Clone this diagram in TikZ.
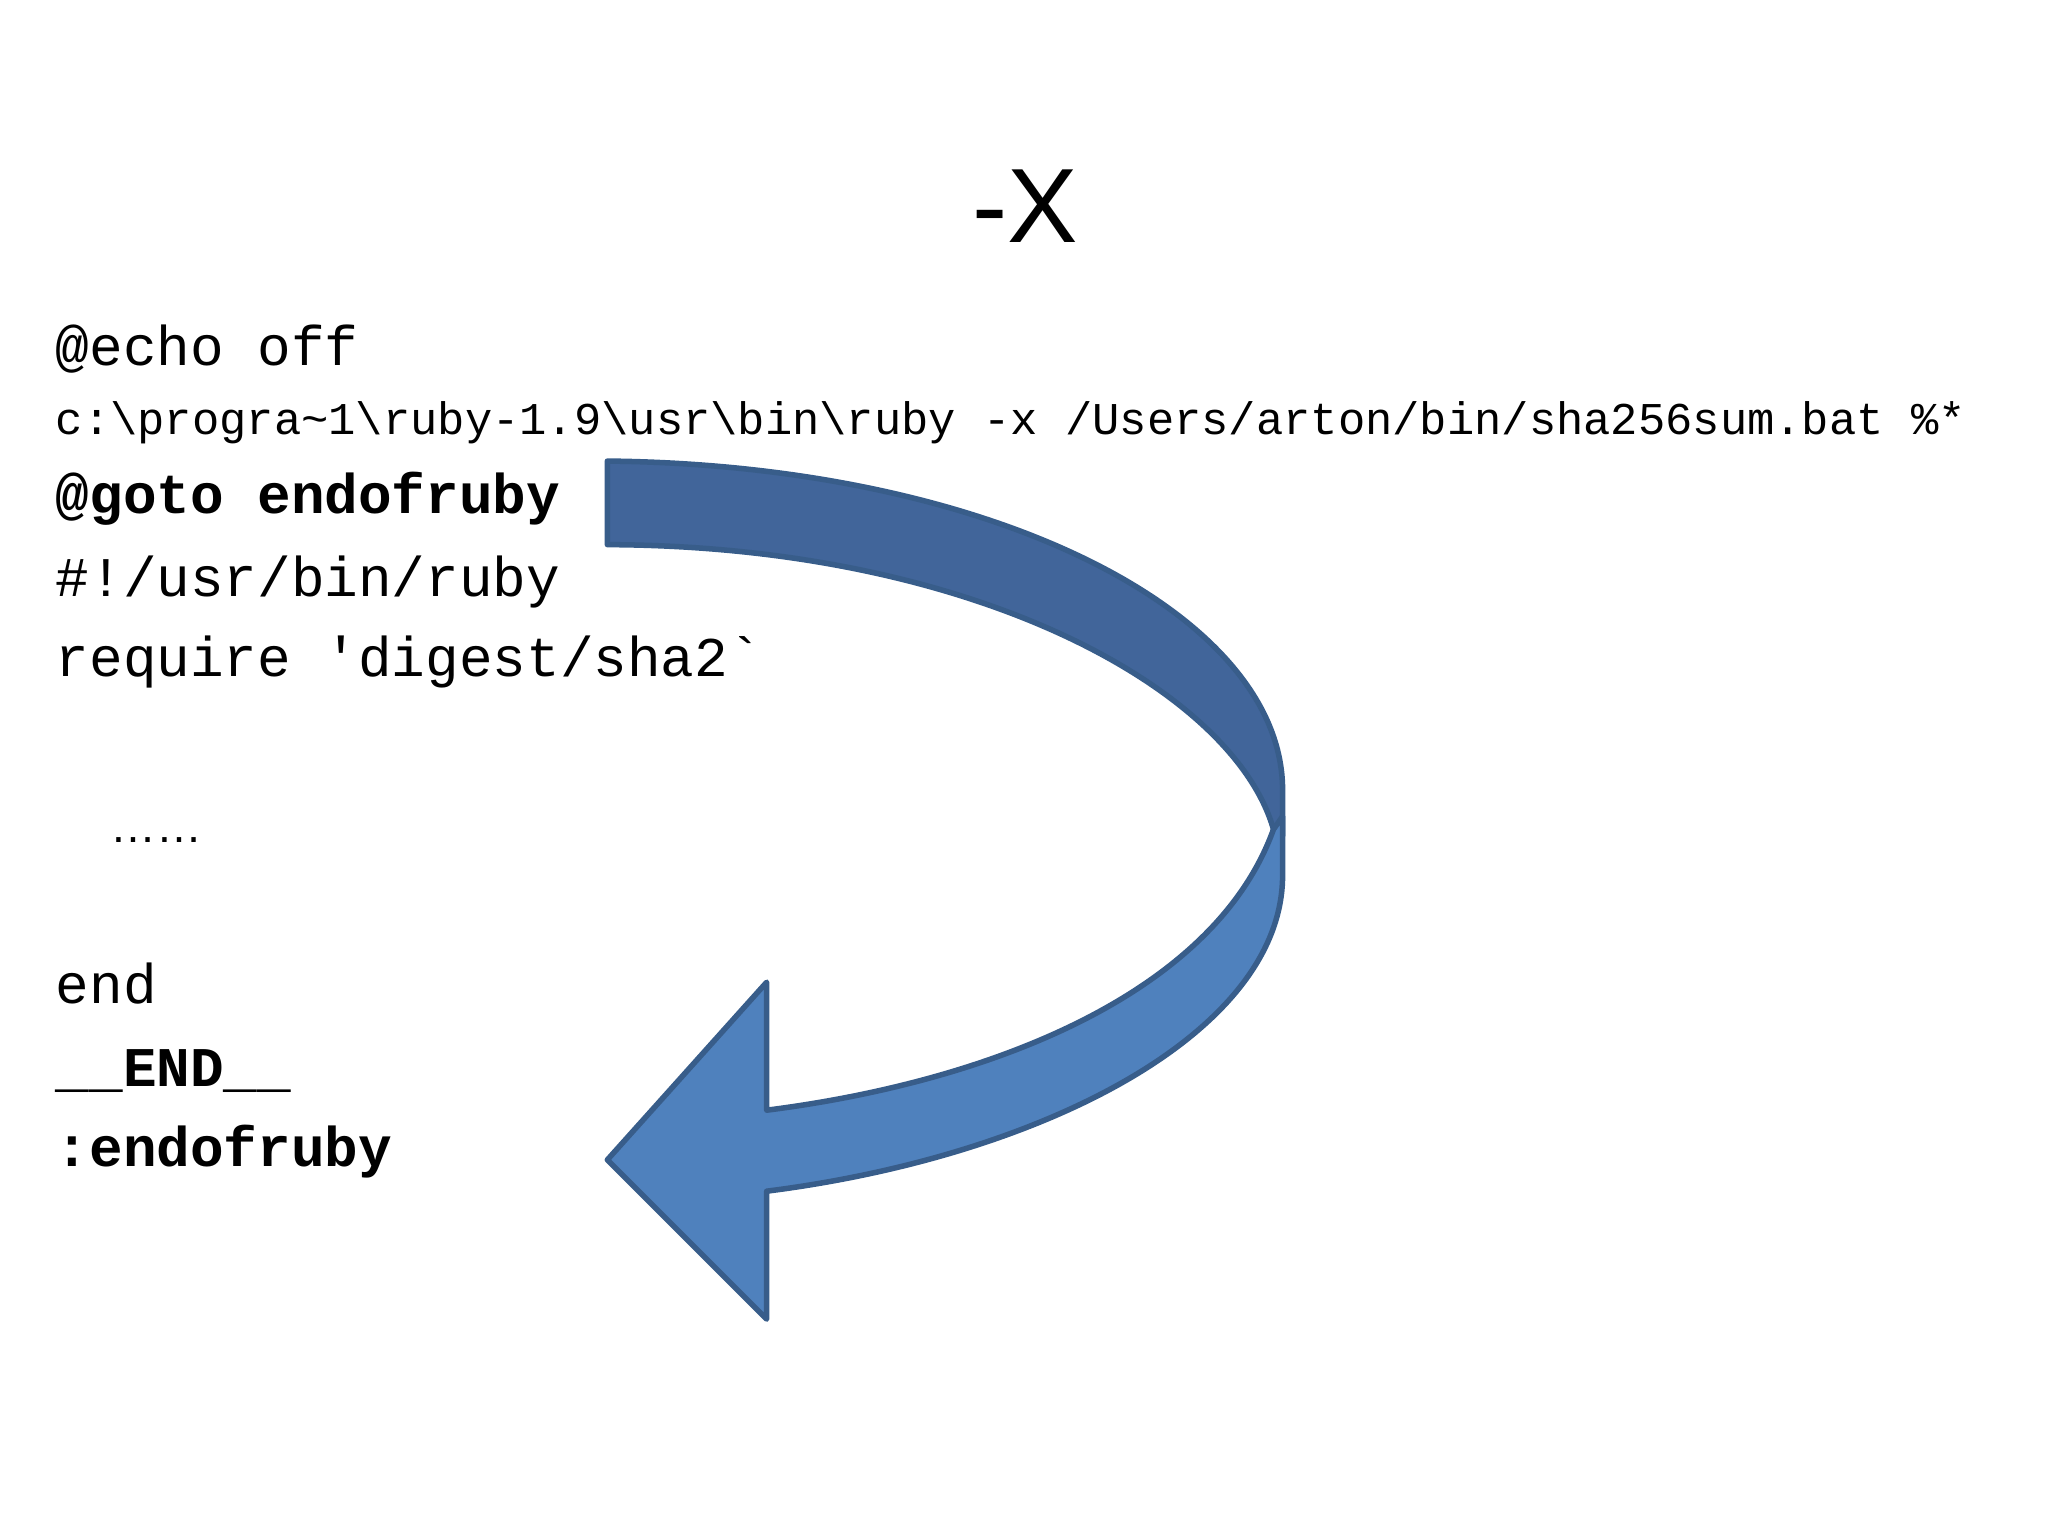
\documentclass[tikz,border=0pt]{standalone}
\usepackage{fontspec}
\newfontfamily\mono{Liberation Mono}
\newfontfamily\sans{Liberation Sans}
\definecolor{darkb}{HTML}{41659A}
\definecolor{lightb}{HTML}{4F81BD}
\definecolor{edgeb}{HTML}{385D8A}
\begin{document}
\begin{tikzpicture}[x=0.01cm,y=-0.01cm,
  code/.style={anchor=base west,inner sep=0pt,font=\mono\fontsize{12.2pt}{14pt}\selectfont},
  codebf/.style={code,font=\mono\bfseries\fontsize{12.2pt}{14pt}\selectfont}]
\useasboundingbox (0,0) rectangle (1568,1176);
\node[inner sep=0pt,font=\sans\fontsize{23pt}{26pt}\selectfont] (title) at (785,158) {-X};
\node[code] (l1) at (42,280) {@echo off};
\node[code,font=\mono\fontsize{9.9pt}{12pt}\selectfont] (l2) at (42,333) {c:\textbackslash progra\textasciitilde 1\textbackslash ruby-1.9\textbackslash usr\textbackslash bin\textbackslash ruby -x /Users/arton/bin/sha256sum.bat \%*};
\node[codebf] (l3) at (42,393) {@goto endofruby};
\node[code] (l4) at (42,457) {\#!/usr/bin/ruby};
\node[code] (l5) at (42,518) {require 'digest/sha2`};
\node[anchor=base west,inner sep=0pt,font=\sans\fontsize{10pt}{12pt}\selectfont] (dots) at (84,645) {……};
\node[code] (l6) at (42,768) {end};
\node[codebf] (l7) at (42,832) {\_\_END\_\_};
\node[codebf] (l8) at (42,893) {:endofruby};
% arrow back (dark)
\draw[edgeb,line width=1.2pt,fill=darkb,line join=round]
  (465,353) .. controls (760,356) and (982,470) .. (982,605)
  -- (982,640) -- (975,635)
  .. controls (945,530) and (750,418) .. (465,417) -- cycle;
% arrow front (light)
\draw[edgeb,line width=1.2pt,fill=lightb,line join=round]
  (975,635) -- (982,625) -- (982,670)
  .. controls (982,790) and (800,885) .. (587,912)
  -- (587,1010) -- (465,888) -- (587,752) -- (587,850)
  .. controls (760,828) and (930,760) .. (975,635) -- cycle;
\end{tikzpicture}
\end{document}
